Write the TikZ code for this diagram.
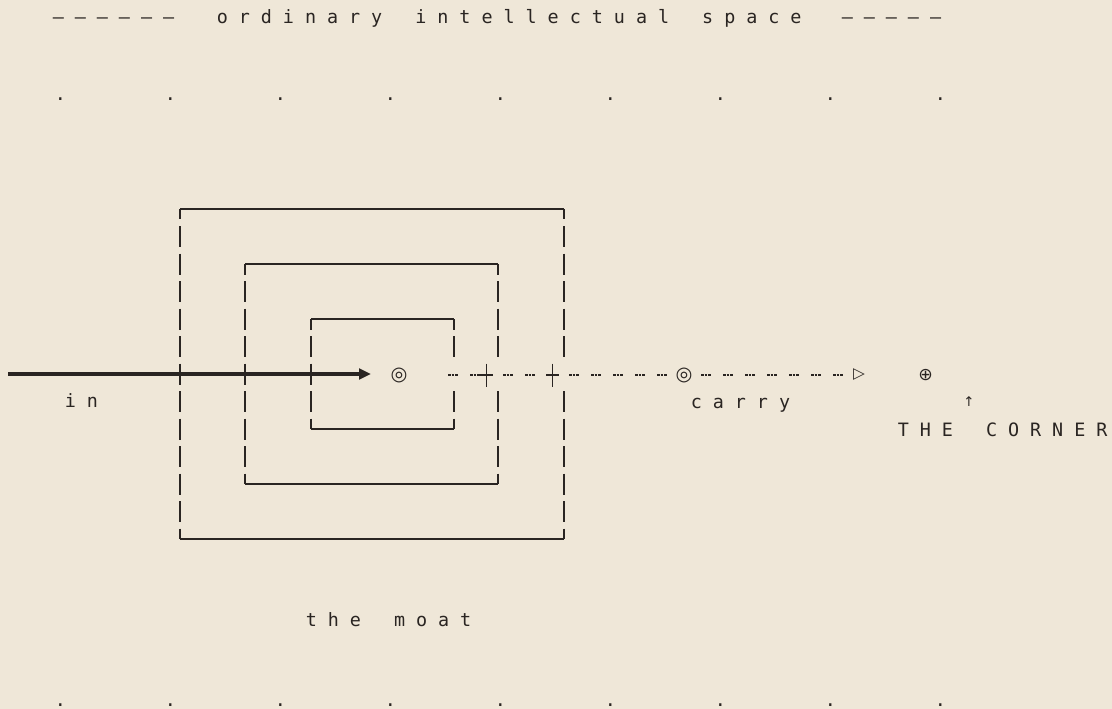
\documentclass[tikz,border=0pt]{standalone}
\usepackage{fontspec}
\usepackage{tikz}
\usetikzlibrary{arrows.meta, positioning}
\newfontfamily\gridfont{DejaVu Sans Mono}
\newfontfamily\glyphfont{DejaVu Sans}
\definecolor{paper}{HTML}{EFE7D8}
\definecolor{ink}{HTML}{2A2522}
% one letter per two-cell slot, spaces included
\ExplSyntaxOn
\NewDocumentCommand \spell { m } { \str_map_inline:nn { #1 } { \makebox[16.55pt][c]{##1} } }
\ExplSyntaxOff

\begin{document}
\begin{tikzpicture}[x=0.75pt, y=-0.75pt,
    spaced/.style={anchor=base west, inner sep=0pt, text=ink, font=\gridfont\fontsize{13.8}{16}\selectfont},
    glyph/.style={inner sep=0.5pt, fill=paper, text=ink, font=\glyphfont\fontsize{13}{15}\selectfont},
    wall/.style={draw=ink, line width=1.1pt},
    post/.style={wall, dash pattern=on 15.75pt off 4.875pt, dash phase=7.875pt},
    carry/.style={draw=ink, line width=1.1pt, dash pattern=on 2.1pt off 0.6pt on 2.1pt off 0.6pt on 2.1pt off 9pt},
    inarrow/.style={draw=ink, line width=2.3pt, -{Triangle[length=9pt, width=8pt]}}
]
    \path[use as bounding box, fill=paper] (0,0) rectangle (1112,709);

    % heading and the two rows of dots
    \node[spaced] (ruleL) at (47,23.5) {\spell{––––––}};
    \node[spaced] (space) at (211,23.5) {\spell{ordinary intellectual space}};
    \node[spaced] (ruleR) at (836,23.5) {\spell{–––––}};
    \foreach \i in {0,...,8} {
        \node[spaced] (upper\i) at ({49+110*\i},101) {\spell{.}};
        \node[spaced] (lower\i) at ({49+110*\i},706) {\spell{.}};
    }

    % the moat: three walls, right sides open on the carry row
    \foreach \l/\t/\r/\b in {180/209/564/539, 245/264/498/484, 311/319/454/429} {
        \draw[wall] (\l,\t) -- (\r,\t);
        \draw[wall] (\l,\b) -- (\r,\b);
        \draw[post] (\l,\t) -- (\l,\b);
        \draw[post] (\r,\t) -- (\r,357);
        \draw[post, dash phase=0pt] (\r,391) -- (\r,\b);
    }

    \coordinate (entry) at (8,374);
    \coordinate (reach) at (371,374);
    \coordinate (gate) at (448,375);
    \coordinate (lock1) at (486.5,375);
    \coordinate (relay) at (503,375);
    \coordinate (lock2) at (552.5,375);
    \coordinate (tip) at (859,375);

    \draw[inarrow] (entry) -- (reach);
    \draw[carry] (gate) -- (lock1);
    \draw[carry] (relay) -- (tip);
    \foreach \c in {lock1, lock2}
        \draw[wall, line width=0.9pt] (\c) +(0,-11.5) -- +(0,11.5) (\c) +(-6.5,0) -- +(6.5,0);

    \node[glyph, font=\glyphfont\fontsize{14.5}{16}\selectfont] (core) at (399,375) {◎};
    \node[glyph, font=\glyphfont\fontsize{14.5}{16}\selectfont] (midmark) at (684,375) {◎};
    \node[glyph, font=\glyphfont\fontsize{11.5}{13}\selectfont] (tipmark) at (tip) {▷};
    \node[glyph] (cornermark) at (925.5,375) {⊕};
    \node[glyph, fill=none, font=\glyphfont\fontsize{10}{12}\selectfont] (uparrow) at (969,402) {↑};

    \node[spaced] (inlabel) at (59,407.5) {\spell{in}};
    \node[spaced] (carrylabel) at (685,408) {\spell{carry}};
    \node[spaced] (cornerlabel) at (892,436) {\spell{THE CORNER}};
    \node[spaced] (moatlabel) at (300,626.5) {\spell{the moat}};
\end{tikzpicture}
\end{document}
